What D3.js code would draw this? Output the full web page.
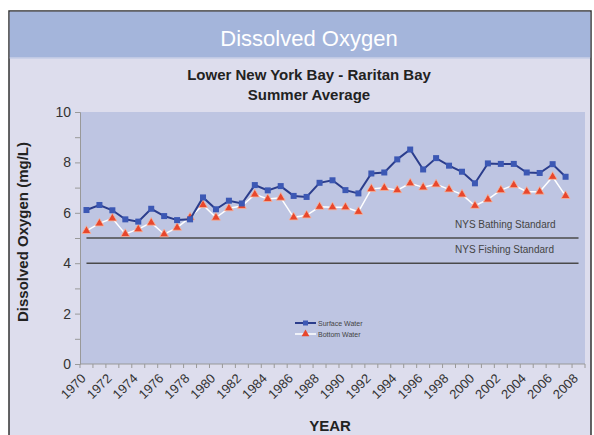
<!DOCTYPE html>
<html>
<head>
<meta charset="utf-8">
<script src="https://cdn.jsdelivr.net/npm/d3@7"></script>
<style>
  body { margin: 0; background: #fff; }
  text { font-family: "Liberation Sans", Arial, sans-serif; }
</style>
</head>
<body>
<div id="chart"></div>
<script>
// categories (1970..2008), data exists for 1970..2007
var years = d3.range(1970, 2009);
var dataYears = d3.range(1970, 2008);
var surface = [6.11, 6.31, 6.10, 5.74, 5.65, 6.16, 5.87, 5.71, 5.74, 6.61,
               6.14, 6.48, 6.37, 7.10, 6.89, 7.06, 6.67, 6.63, 7.19, 7.29,
               6.90, 6.77, 7.56, 7.60, 8.12, 8.51, 7.72, 8.17, 7.87, 7.63,
               7.17, 7.96, 7.94, 7.94, 7.60, 7.58, 7.93, 7.43];
var bottom = [5.28, 5.58, 5.78, 5.16, 5.35, 5.61, 5.15, 5.41, 5.82, 6.31,
              5.81, 6.18, 6.27, 6.73, 6.55, 6.60, 5.82, 5.90, 6.24, 6.22,
              6.22, 6.04, 6.95, 6.99, 6.90, 7.17, 7.01, 7.13, 6.93, 6.73,
              6.28, 6.53, 6.90, 7.10, 6.84, 6.84, 7.43, 6.67];
var standards = [{name: "NYS Bathing Standard", value: 5},
                 {name: "NYS Fishing Standard", value: 4}];
var yTicks = [0, 2, 4, 6, 8, 10];
var xLabels = d3.range(1970, 2009, 2);

var W = 594, H = 435;
var margin = {top: 112, right: 9, bottom: 71, left: 80},
    width = W - margin.left - margin.right,
    height = H - margin.top - margin.bottom;

var svg = d3.select("#chart")
    .append("svg")
    .attr("width", W)
    .attr("height", H);

// chart frame + header
svg.append("rect").attr("x", 9).attr("y", 11).attr("width", 582).attr("height", 430)
    .attr("fill", "#dddded").attr("stroke", "#333").attr("stroke-width", 1.5);
svg.append("rect").attr("x", 9.75).attr("y", 11.75).attr("width", 580.5).attr("height", 46)
    .attr("fill", "#a4b5db");
svg.append("line").attr("x1", 9.75).attr("x2", 590).attr("y1", 58).attr("y2", 58)
    .attr("stroke", "#c5cde6").attr("stroke-width", 1.5);
svg.append("text").attr("x", 309).attr("y", 46).attr("text-anchor", "middle")
    .attr("fill", "#fff").style("font-size", "22px").text("Dissolved Oxygen");
svg.append("text").attr("x", 309).attr("y", 80).attr("text-anchor", "middle")
    .attr("fill", "#222").style("font-size", "15px").style("font-weight", "bold")
    .text("Lower New York Bay - Raritan Bay");
svg.append("text").attr("x", 309).attr("y", 100).attr("text-anchor", "middle")
    .attr("fill", "#222").style("font-size", "15px").style("font-weight", "bold")
    .text("Summer Average");

var g = svg.append("g").attr("transform", "translate(" + margin.left + "," + margin.top + ")");

var x = d3.scaleBand().domain(years).range([0, width]);
var y = d3.scaleLinear().domain([0, 10]).range([height, 0]);
var cx = function(yr) { return x(yr) + x.bandwidth() / 2; };

g.append("rect").attr("width", width).attr("height", height).attr("fill", "#bec5e2");

// y axis
var yAxis = d3.axisLeft(y).tickValues(d3.range(0, 11)).tickSize(5)
    .tickFormat(function(d) { return yTicks.indexOf(d) >= 0 ? d : ""; });
var ya = g.append("g").attr("class", "y axis").call(yAxis);
ya.select(".domain").attr("stroke", "#999");
ya.selectAll(".tick line").attr("stroke", "#999");
ya.selectAll(".tick text").attr("fill", "#333").style("font-size", "14px").attr("x", -9);

// x axis: ticks at category boundaries
var xa = g.append("g").attr("class", "x axis").attr("transform", "translate(0," + height + ")");
xa.append("line").attr("x1", 0).attr("x2", width).attr("stroke", "#999");
xa.selectAll(".xt").data(years.concat([2009])).enter().append("line")
    .attr("x1", function(d) { return d === 2009 ? width : x(d); })
    .attr("x2", function(d) { return d === 2009 ? width : x(d); })
    .attr("y1", 0).attr("y2", 4).attr("stroke", "#999");
xa.selectAll(".xl").data(xLabels).enter().append("text")
    .attr("transform", function(d) { return "translate(" + (cx(d) - 3) + ",12) rotate(-45)"; })
    .attr("text-anchor", "end").attr("dy", "0.35em")
    .attr("fill", "#333").style("font-size", "13px")
    .text(function(d) { return d; });

// axis titles
svg.append("text").attr("transform", "translate(28,232) rotate(-90)")
    .attr("text-anchor", "middle").attr("fill", "#222")
    .style("font-size", "15px").style("font-weight", "bold")
    .text("Dissolved Oxygen (mg/L)");
svg.append("text").attr("x", 330).attr("y", 431).attr("text-anchor", "middle")
    .attr("fill", "#222").style("font-size", "15px").style("font-weight", "bold")
    .text("YEAR");

// standards lines
standards.forEach(function(s) {
    g.append("line")
        .attr("x1", cx(1970)).attr("x2", cx(2008))
        .attr("y1", y(s.value)).attr("y2", y(s.value))
        .attr("stroke", "#4a4a4a").attr("stroke-width", 1.5);
    g.append("text").attr("x", 375).attr("y", y(s.value) - 10)
        .attr("fill", "#444").style("font-size", "10px").text(s.name);
});

// bottom water series
var bLine = d3.line().x(function(d, i) { return cx(dataYears[i]); }).y(function(d) { return y(d); });
g.append("path").datum(bottom).attr("d", bLine)
    .attr("fill", "none").attr("stroke", "#fff").attr("stroke-width", 1.5);
var tri = d3.symbol().type(d3.symbolTriangle).size(34);
g.selectAll(".tri").data(bottom).enter().append("path")
    .attr("d", tri)
    .attr("transform", function(d, i) { return "translate(" + cx(dataYears[i]) + "," + y(d) + ")"; })
    .attr("fill", "#e8472c").attr("stroke", "#f6b29c").attr("stroke-width", 0.8);

// surface water series
g.append("path").datum(surface).attr("d", bLine)
    .attr("fill", "none").attr("stroke", "#2b3d8c").attr("stroke-width", 2);
g.selectAll(".sq").data(surface).enter().append("rect")
    .attr("x", function(d, i) { return cx(dataYears[i]) - 3; })
    .attr("y", function(d) { return y(d) - 3; })
    .attr("width", 6).attr("height", 6)
    .attr("fill", "#3c58b4");

// legend
var lg = svg.append("g").attr("transform", "translate(295,323)");
lg.append("line").attr("x1", 0).attr("x2", 21).attr("stroke", "#2b3d8c").attr("stroke-width", 2);
lg.append("rect").attr("x", 8).attr("y", -2.5).attr("width", 5).attr("height", 5).attr("fill", "#3c58b4");
lg.append("text").attr("x", 23).attr("y", 2.5).attr("fill", "#444").style("font-size", "7px").text("Surface Water");
lg.append("line").attr("x1", 0).attr("x2", 21).attr("y1", 11).attr("y2", 11).attr("stroke", "#fff").attr("stroke-width", 1.5);
lg.append("path").attr("d", d3.symbol().type(d3.symbolTriangle).size(26))
    .attr("transform", "translate(10.5,11)").attr("fill", "#e8472c");
lg.append("text").attr("x", 23).attr("y", 13.5).attr("fill", "#444").style("font-size", "7px").text("Bottom Water");
</script>
</body>
</html>
